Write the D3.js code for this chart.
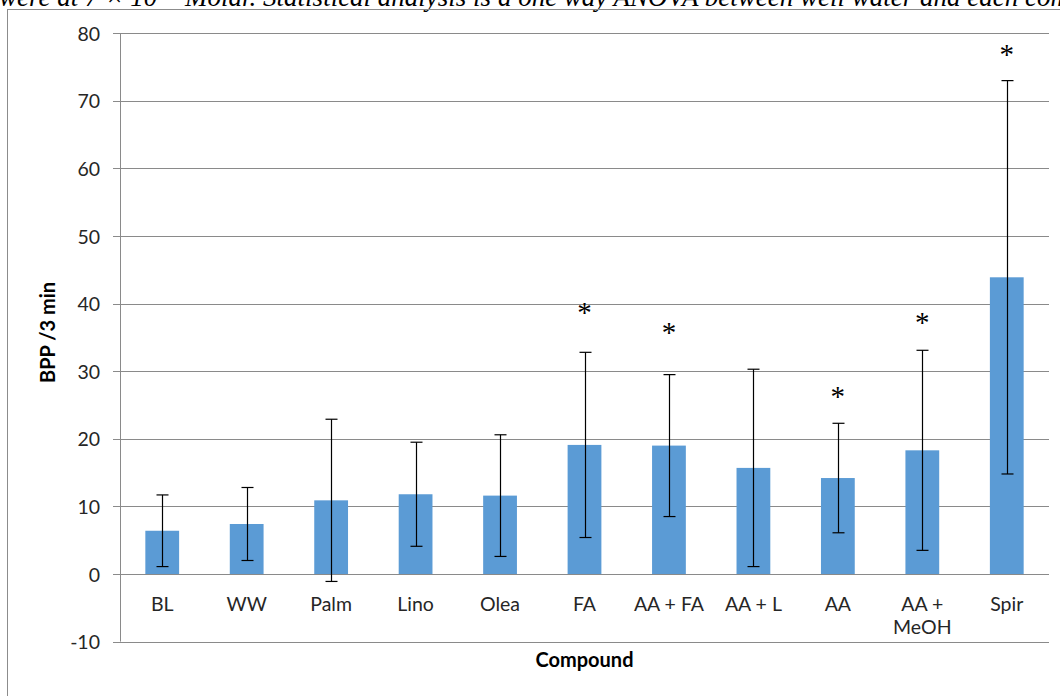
<!DOCTYPE html>
<html>
<head>
<meta charset="utf-8">
<script src="https://cdn.jsdelivr.net/npm/d3@7"></script>
<style>
  html, body { margin: 0; padding: 0; background: #fff; }
  svg { display: block; }
  .tick-label, .cat-label { font-family: Lato, "Open Sans", sans-serif; fill: #262626; }
  .axis-title { font-family: Lato, "Open Sans", sans-serif; font-weight: bold; fill: #000; }
</style>
</head>
<body>
<svg id="chart" width="1060" height="696"></svg>
<script>
// Beats per period (BPP) over 3 minutes, mean ± error, by compound
const categories = ["BL", "WW", "Palm", "Lino", "Olea", "FA", "AA + FA", "AA + L", "AA", "AA + MeOH", "Spir"];
const means      = [6.4, 7.4, 10.9, 11.8, 11.6, 19.1, 19.0, 15.7, 14.2, 18.3, 43.9];
const errors     = [5.3, 5.4, 12.0, 7.7, 9.0, 13.7, 10.5, 14.6, 8.1, 14.8, 29.1];
// significance marks (category, height at which the asterisk sits)
const starCats   = ["FA", "AA + FA", "AA", "AA + MeOH", "Spir"];
const starLevels = [39.3, 36.4, 26.9, 37.8, 77.5];
const yTicks     = [-10, 0, 10, 20, 30, 40, 50, 60, 70, 80];

const svg = d3.select("#chart");

const plot = { left: 120, right: 1049, top: 33.3, bottom: 641.6 };

const x = d3.scaleBand().domain(categories).range([plot.left, plot.right]).paddingInner(0).paddingOuter(0);
const y = d3.scaleLinear().domain([-10, 80]).range([plot.bottom, plot.top]);

// caption fragment running across the top edge
const cap = svg.append("text")
  .attr("x", -1).attr("y", 6)
  .attr("font-family", "'Liberation Serif', 'DejaVu Serif', serif")
  .attr("font-style", "italic")
  .attr("font-size", 27)
  .attr("fill", "#000");
cap.append("tspan").text("were at 7 × 10");
cap.append("tspan").attr("dy", -9).attr("font-size", 18).text("−4");
cap.append("tspan").attr("dy", 9).text(" Molar. Statistical analysis is a one way ANOVA between well water and each compound");

// chart frame
svg.append("rect")
  .attr("x", 7.5).attr("y", 9.5).attr("width", 1100).attr("height", 720)
  .attr("fill", "none").attr("stroke", "#8c8c8c").attr("stroke-width", 1);

// horizontal gridlines (extend slightly left of the axis as tick marks)
svg.append("g").selectAll("line").data(yTicks).join("line")
  .attr("x1", plot.left - 7).attr("x2", plot.right)
  .attr("y1", d => Math.round(y(d)) + 0.5).attr("y2", d => Math.round(y(d)) + 0.5)
  .attr("stroke", "#8a8a8a").attr("stroke-width", 1);

// vertical axis line
svg.append("line")
  .attr("x1", plot.left + 0.5).attr("x2", plot.left + 0.5)
  .attr("y1", y(80)).attr("y2", y(-10))
  .attr("stroke", "#8a8a8a").attr("stroke-width", 1);

// y tick labels (plain hyphen for negatives)
const yAxis = d3.axisLeft(y).tickValues(yTicks).tickSize(0).tickPadding(20).tickFormat(d => String(d));
const yg = svg.append("g").attr("transform", `translate(${plot.left},0)`).call(yAxis);
yg.select(".domain").remove();
yg.selectAll("text").attr("class", "tick-label").attr("font-size", 19.5).attr("dy", "0.36em");

// bars
const barW = x.bandwidth() * 0.4;
svg.append("g").selectAll("rect").data(categories).join("rect")
  .attr("x", (d) => x(d) + (x.bandwidth() - barW) / 2)
  .attr("width", barW)
  .attr("y", (d, i) => y(means[i]))
  .attr("height", (d, i) => y(0) - y(means[i]))
  .attr("fill", "#5b9bd5");

// error bars
const eg = svg.append("g").attr("stroke", "#000").attr("stroke-width", 1.2);
categories.forEach((c, i) => {
  const cx = Math.round(x(c) + x.bandwidth() / 2) + 0.5;
  const hi = y(means[i] + errors[i]);
  const lo = y(means[i] - errors[i]);
  eg.append("line").attr("x1", cx).attr("x2", cx).attr("y1", hi).attr("y2", lo);
  eg.append("line").attr("x1", cx - 6).attr("x2", cx + 6).attr("y1", hi).attr("y2", hi);
  eg.append("line").attr("x1", cx - 6).attr("x2", cx + 6).attr("y1", lo).attr("y2", lo);
});

// significance asterisks, centred on their level
svg.append("g").selectAll("text").data(starCats).join("text")
  .attr("x", d => x(d) + x.bandwidth() / 2)
  .attr("y", (d, i) => y(starLevels[i]))
  .attr("dy", "0.47em")
  .attr("text-anchor", "middle")
  .attr("font-family", "'Liberation Serif', serif")
  .attr("font-size", 29)
  .attr("fill", "#000")
  .text("*");

// category labels under the zero line
const lines = { "AA + MeOH": ["AA +", "MeOH"] };
const cl = svg.append("g");
categories.forEach(c => {
  const parts = lines[c] || [c];
  const t = cl.append("text")
    .attr("class", "cat-label")
    .attr("x", x(c) + x.bandwidth() / 2)
    .attr("y", y(0) + 36.5)
    .attr("text-anchor", "middle")
    .attr("font-size", 19.5);
  parts.forEach((p, k) => {
    t.append("tspan").attr("x", x(c) + x.bandwidth() / 2).attr("dy", k === 0 ? 0 : 23).text(p);
  });
});

// axis titles
svg.append("text")
  .attr("class", "axis-title")
  .attr("x", (plot.left + plot.right) / 2)
  .attr("y", 667)
  .attr("text-anchor", "middle")
  .attr("font-size", 20)
  .text("Compound");

svg.append("text")
  .attr("class", "axis-title")
  .attr("transform", `translate(55,${(plot.top + plot.bottom) / 2 - 5}) rotate(-90)`)
  .attr("text-anchor", "middle")
  .attr("font-size", 20)
  .text("BPP /3 min");
</script>
</body>
</html>
